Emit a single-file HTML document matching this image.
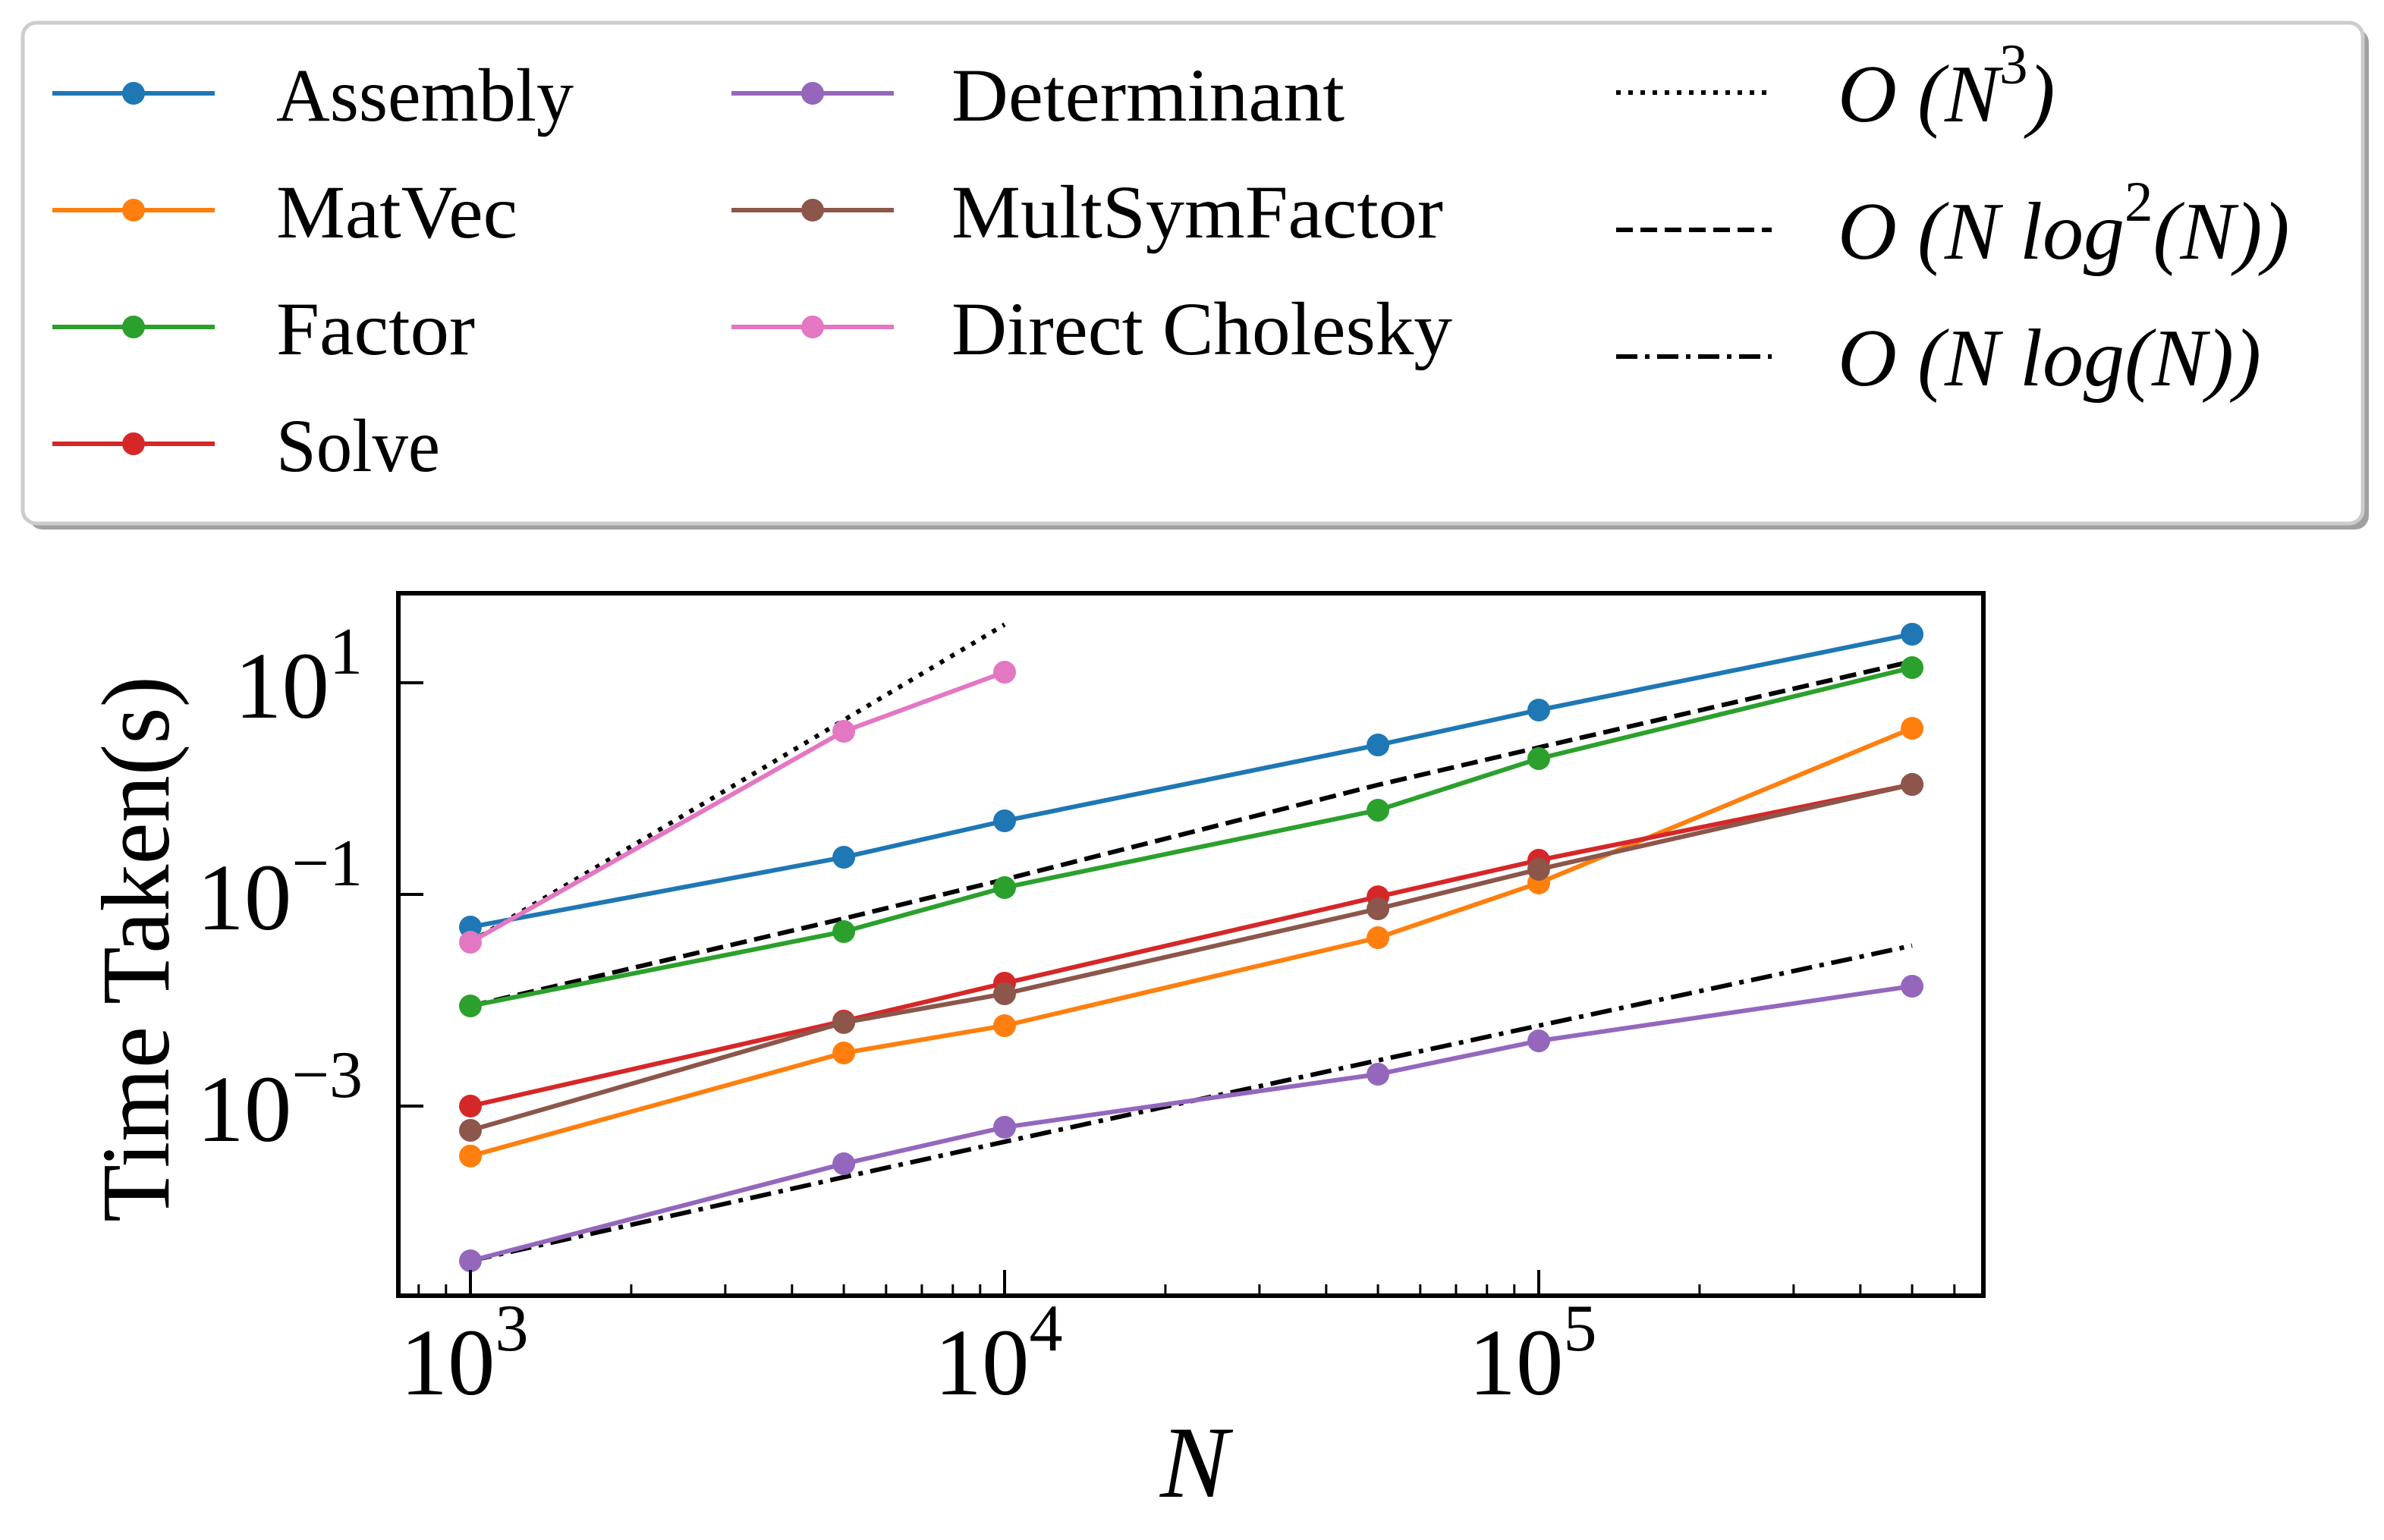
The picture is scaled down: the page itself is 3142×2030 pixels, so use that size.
<!DOCTYPE html>
<html><head><meta charset="utf-8"><style>
html,body{margin:0;padding:0;background:#fff;}
svg{display:block;}
text{font-family:"Liberation Serif",serif;fill:#000;}
</style></head><body>
<svg id="chart" width="3142" height="2030" viewBox="0 0 3142 2030" xmlns="http://www.w3.org/2000/svg">
<rect width="3142" height="2030" fill="#fff"/>
<g id="legend">
  <rect x="38" y="38" width="3084" height="660" rx="18" fill="#a0a0a0"/>
  <rect x="30" y="30" width="3084" height="660" rx="18" fill="#fff" stroke="#cccccc" stroke-width="5"/>
</g>
<g id="plot"></g>
<text transform="translate(222,1251) rotate(-90)" text-anchor="middle" font-size="128" textLength="720" lengthAdjust="spacingAndGlyphs">Time Taken(s)</text>
<text x="1574" y="1973" text-anchor="middle" font-size="135" font-style="italic">N</text>
</svg>
<script>
const ns="http://www.w3.org/2000/svg";
const categories=[1000,5000,10000,50000,100000,500000];
const seriesNames=["Assembly","MatVec","Factor","Solve","Determinant","MultSymFactor","Direct Cholesky"];
const assemblyTimes=[0.0492,0.2244,0.4955,2.582,5.521,28.77];
const matvecTimes=[0.000337,0.003177,0.005754,0.03899,0.1282,3.715];
const factorTimes=[0.008831,0.04457,0.1161,0.6252,1.919,13.90];
const solveTimes=[0.001,0.006353,0.01449,0.09506,0.2104,1.094];
const determinantTimes=[0.0000345,0.000285,0.000631,0.002,0.00413,0.01358];
const multSymTimes=[0.00059,0.006152,0.01151,0.07311,0.1726,1.094];
const choleskyTimes=[0.03532,3.475,12.59];
const refN3=[0.03548,4.436,35.48];
const refNlog2N=[0.008831,0.05913,0.1385,1.084,2.448,15.92];
const refNlogN=[0.0000345,0.000213,0.00046,0.0027,0.00575,0.0328];
const xTickValues=[1000,10000,100000];
const xTickExps=["3","4","5"];
const yTickValues=[10,0.1,0.001];
const yTickExps=["1","\u22121","\u22123"];
const colors=["#1f77b4","#ff7f0e","#2ca02c","#d62728","#9467bd","#8c564b","#e377c2"];

const L=525,R=2614,T=782,B=1708;
const X=v=>620+(Math.log10(v)-3)*704;
const Y=v=>900-(Math.log10(v)-1)*139.5;
const plot=document.getElementById('plot');
function mk(tag,attrs,parent){const e=document.createElementNS(ns,tag);for(const k in attrs)e.setAttribute(k,attrs[k]);(parent||plot).appendChild(e);return e;}

const defs=mk('defs',{});
const cp=mk('clipPath',{id:'clip'},defs);mk('rect',{x:L,y:T,width:R-L,height:B-T},cp);
const g=mk('g',{'clip-path':'url(#clip)'});

function refLine(xs,vals,dash,name){
  const p=mk('polyline',{points:xs.map((x,i)=>X(x)+','+Y(vals[i])).join(' '),fill:'none',stroke:'#000','stroke-width':6,'stroke-dasharray':dash},g);
  
  
}
refLine(categories.slice(0,3),refN3,'6,10','ref-line-n3');
refLine(categories,refNlog2N,'22,10','ref-line-nlog2n');
refLine(categories,refNlogN,'28,10,6,10','ref-line-nlogn');

const allSeries=[assemblyTimes,matvecTimes,factorTimes,solveTimes,determinantTimes,multSymTimes,choleskyTimes];
allSeries.forEach((vals,si)=>{
  const xs=categories.slice(0,vals.length);
  const sg=mk('g',{},g);
  
  
  mk('polyline',{points:xs.map((x,i)=>X(x)+','+Y(vals[i])).join(' '),fill:'none',stroke:colors[si],'stroke-width':6},sg);
  xs.forEach((x,i)=>{
    const c=mk('circle',{cx:X(x),cy:Y(vals[i]),r:15,fill:colors[si]},sg);
    
    
  });
});

for(let d=2;d<=5;d++){for(let m=1;m<10;m++){const v=m*Math.pow(10,d);const x=X(v);if(x<=L+2||x>=R-2)continue;const major=(m===1);
  const t=mk('line',{x1:x,x2:x,y1:B,y2:B-(major?34:15),stroke:'#000','stroke-width':major?4:3});
  
  }}
xTickValues.forEach((v,i)=>{
  const t=mk('text',{x:X(v)-8,y:1838,'text-anchor':'middle','font-size':125});
  
  
  t.textContent='10';
  const s=mk('tspan',{dy:-58,'font-size':88},t);s.textContent=xTickExps[i];
});
yTickValues.forEach((v,i)=>{
  const y=Y(v);
  const tk=mk('line',{x1:L,x2:L+33,y1:y,y2:y,stroke:'#000','stroke-width':4});
  
  
  const t=mk('text',{x:478,y:y+46,'text-anchor':'end','font-size':125});
  
  
  const a=mk('tspan',{},t);a.textContent='10';
  const s=mk('tspan',{dy:-58,'font-size':88},t);s.textContent=yTickExps[i];
});
const fr=mk('rect',{x:L,y:T,width:R-L,height:B-T,fill:'none',stroke:'#000','stroke-width':6});



const lg=document.getElementById('legend');
const legPos=[[69,123,364,392],[69,277,364,318],[69,431,364,262],[69,585,364,216],[964,123,1254,518],[964,277,1254,648],[964,431,1254,660]];
seriesNames.forEach((n,i)=>{
  const [x,y,tx,tw]=legPos[i];
  const e=mk('g',{},lg);
  
  
  mk('line',{x1:x,x2:x+214,y1:y,y2:y,stroke:colors[i],'stroke-width':6},e);
  mk('circle',{cx:x+107,cy:y,r:15,fill:colors[i]},e);
  const t=mk('text',{x:tx,y:y+36,'font-size':100,textLength:tw,lengthAdjust:'spacingAndGlyphs'},e);t.textContent=n;
});
const refRows=[122,303,470];
const refDash=['6,10','22,10','28,10,6,10'];
const refNames=['legend-entry-n3','legend-entry-nlog2n','legend-entry-nlogn'];
const refTexts=[["O (N",["3"],")"],["O (N log",["2"],"(N))"],["O (N log(N))",[],""]];
refRows.forEach((y,i)=>{
  const e=mk('g',{},lg);
  
  
  mk('line',{x1:2130,x2:2335,y1:y,y2:y,stroke:'#000','stroke-width':6,'stroke-dasharray':refDash[i]},e);
  const t=mk('text',{x:2422,y:y+38,'font-size':108,'font-style':'italic'},e);
  const parts=refTexts[i];
  const a=mk('tspan',{},t);a.textContent=parts[0];
  if(parts[1].length){const s=mk('tspan',{dy:-50,'font-size':75,'font-style':'normal'},t);s.textContent=parts[1][0];
    const b=mk('tspan',{dy:50},t);b.textContent=parts[2];}
});
</script>
</body></html>
